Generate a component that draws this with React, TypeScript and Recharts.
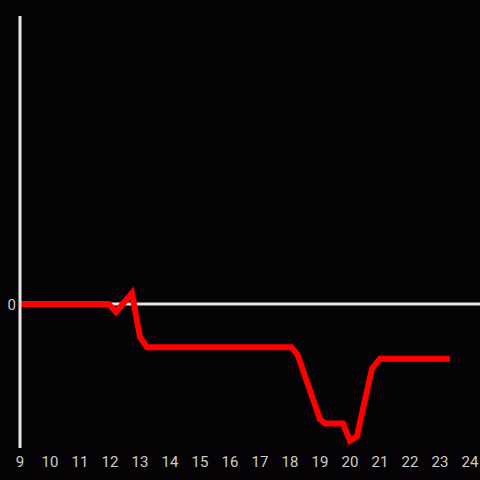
import React from 'react';
import { LineChart, Line, XAxis, YAxis, ReferenceLine } from 'recharts';

// hour of day and value, breakpoints
const hours = [9, 11.95, 12.2, 12.73, 13, 13.23, 18.05, 18.25, 19, 19.17, 19.77, 20, 20.23, 20.73, 21, 23.33];
const values = [0, 0, -0.055, 0.075, -0.23, -0.3, -0.3, -0.35, -0.8, -0.83, -0.83, -0.95, -0.92, -0.45, -0.38, -0.38];
const xTicks = [9, 10, 11, 12, 13, 14, 15, 16, 17, 18, 19, 20, 21, 22, 23, 24];
const yTicks = [0];

const data = hours.map((h, i) => ({ hour: h, value: values[i] }));

const App: React.FC = () => {
  return (
    <div
      style={{
        position: 'fixed',
        top: 0,
        left: 0,
        width: 480,
        height: 480,
        overflow: 'hidden',
        background: '#050306',
      }}
    >
      <LineChart
        width={480}
        height={480}
        data={data}
        margin={{ top: 16, right: 0, left: 0, bottom: 0 }}
      >
        <XAxis
          dataKey="hour"
          type="number"
          domain={[9, 24.333]}
          ticks={xTicks}
          axisLine={false}
          tickLine={false}
          tickSize={0}
          tickMargin={8}
          height={32}
          tick={{ fill: '#cccccc', fontSize: 15, fontFamily: 'Roboto' }}
          interval={0}
          allowDataOverflow
        />
        <YAxis
          type="number"
          domain={[-1, 2]}
          ticks={yTicks}
          width={20}
          axisLine={{ stroke: '#e6e6e6', strokeWidth: 3 }}
          tickLine={false}
          tickSize={0}
          tickMargin={4}
          tick={{ fill: '#cccccc', fontSize: 15, fontFamily: 'Roboto', dy: 1 }}
        />
        <ReferenceLine y={0} stroke="#e6e6e6" strokeWidth={3} />
        <Line
          type="linear"
          dataKey="value"
          stroke="#ff0000"
          strokeWidth={6}
          dot={false}
          isAnimationActive={false}
        />
      </LineChart>
    </div>
  );
};

export default App;
